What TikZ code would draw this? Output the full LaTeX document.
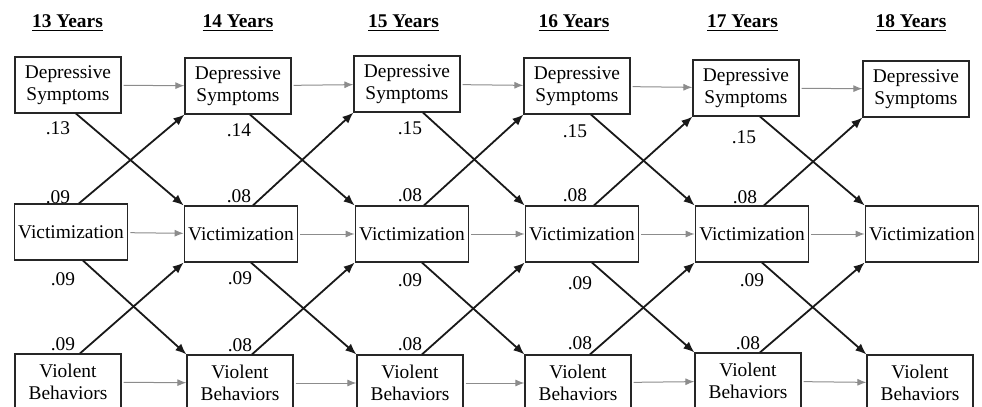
\documentclass[tikz,border=0pt]{standalone}
\usepackage{fontspec}
\setmainfont{Liberation Serif}
\usetikzlibrary{arrows.meta}
\newcommand{\txt}{\fontsize{9.7}{11}\selectfont}
\tikzset{
  measure/.style={draw=black!85, line width=0.6pt, align=center, minimum width=53pt,
    minimum height=28pt, inner xsep=2pt, inner ysep=1pt, font=\txt},
  wt/.style={inner sep=0pt, font=\txt},
  age/.style={inner sep=0pt, anchor=base, font=\txt\bfseries},
  stab/.style={draw=black!45, line width=0.5pt, -{Latex[length=4.5pt,width=3.5pt]}, shorten <=1pt},
  lag/.style={draw=black!90, line width=0.9pt, -{Latex[length=5.5pt,width=4.5pt]}},
}

\begin{document}
\begin{tikzpicture}[x=0.5pt,y=-0.5pt]
        \useasboundingbox (0,0) rectangle (982,407);
        \clip (0,0) rectangle (982,407);
        % ages
        \node[age] (a13) at (67.5,27) {\underline{13 Years}}; \node[age] (a14) at (238,27) {\underline{14 Years}};
        \node[age] (a15) at (403.5,27) {\underline{15 Years}}; \node[age] (a16) at (574,27) {\underline{16 Years}};
        \node[age] (a17) at (742.5,27) {\underline{17 Years}}; \node[age] (a18) at (911,27) {\underline{18 Years}};
        % boxes
        \node[measure] (dep1) at (68,85) {Depressive\\Symptoms};  \node[measure] (dep2) at (238,86) {Depressive\\Symptoms};
        \node[measure] (dep3) at (407,84) {Depressive\\Symptoms}; \node[measure] (dep4) at (577,86) {Depressive\\Symptoms};
        \node[measure] (dep5) at (746,88) {Depressive\\Symptoms}; \node[measure] (dep6) at (916,89) {Depressive\\Symptoms};
        \node[measure] (vic1) at (71,232) {Victimization};  \node[measure] (vic2) at (241,234) {Victimization};
        \node[measure] (vic3) at (412,234) {Victimization}; \node[measure] (vic4) at (582,234) {Victimization};
        \node[measure] (vic5) at (752,234) {Victimization}; \node[measure] (vic6) at (922,234) {Victimization};
        \node[measure] (vio1) at (68,382) {Violent\\Behaviors};  \node[measure] (vio2) at (240,383) {Violent\\Behaviors};
        \node[measure] (vio3) at (410,383) {Violent\\Behaviors}; \node[measure] (vio4) at (578,383) {Violent\\Behaviors};
        \node[measure] (vio5) at (748,381) {Violent\\Behaviors}; \node[measure] (vio6) at (920,383) {Violent\\Behaviors};
        % weights
        \node[wt] (w1a) at (58,128) {.13};  \node[wt] (w1b) at (58,197) {.09};
        \node[wt] (w1c) at (63,279) {.09};  \node[wt] (w1d) at (63,344) {.09};
        \node[wt] (w2a) at (239,130) {.14}; \node[wt] (w2b) at (239,196) {.08};
        \node[wt] (w2c) at (240,278) {.09}; \node[wt] (w2d) at (240,345) {.08};
        \node[wt] (w3a) at (410,128) {.15}; \node[wt] (w3b) at (410,195) {.08};
        \node[wt] (w3c) at (410,280) {.09}; \node[wt] (w3d) at (410,344) {.08};
        \node[wt] (w4a) at (575,131) {.15}; \node[wt] (w4b) at (575,195) {.08};
        \node[wt] (w4c) at (580,283) {.09}; \node[wt] (w4d) at (580,343) {.08};
        \node[wt] (w5a) at (744,137) {.15}; \node[wt] (w5b) at (745,197) {.08};
        \node[wt] (w5c) at (752,280) {.09}; \node[wt] (w5d) at (748,343) {.08};
        % stability paths
        \draw[stab] (dep1) -- (dep2); \draw[stab] (dep2) -- (dep3); \draw[stab] (dep3) -- (dep4);
        \draw[stab] (dep4) -- (dep5); \draw[stab] (dep5) -- (dep6);
        \draw[stab] (vic1) -- (vic2); \draw[stab] (vic2) -- (vic3); \draw[stab] (vic3) -- (vic4);
        \draw[stab] (vic4) -- (vic5); \draw[stab] (vic5) -- (vic6);
        \draw[stab] (vio1) -- (vio2); \draw[stab] (vio2) -- (vio3); \draw[stab] (vio3) -- (vio4);
        \draw[stab] (vio4) -- (vio5); \draw[stab] (vio5) -- (vio6);
        % cross-lagged paths
        \draw[lag] ([xshift=4pt]dep1.south) -- (vic2.north west); \draw[lag] ([xshift=4pt]vic1.north) -- (dep2.south west);
        \draw[lag] ([xshift=6pt]vic1.south) -- (vio2.north west); \draw[lag] ([xshift=6pt]vio1.north) -- (vic2.south west);
        \draw[lag] ([xshift=6pt]dep2.south) -- (vic3.north west); \draw[lag] ([xshift=6pt]vic2.north) -- (dep3.south west);
        \draw[lag] ([xshift=5pt]vic2.south) -- (vio3.north west); \draw[lag] ([xshift=6pt]vio2.north) -- (vic3.south west);
        \draw[lag] ([xshift=8pt]dep3.south) -- (vic4.north west); \draw[lag] ([xshift=6pt]vic3.north) -- (dep4.south west);
        \draw[lag] ([xshift=5pt]vic3.south) -- (vio4.north west); \draw[lag] ([xshift=6pt]vio3.north) -- (vic4.south west);
        \draw[lag] ([xshift=7pt]dep4.south) -- (vic5.north west); \draw[lag] ([xshift=6pt]vic4.north) -- (dep5.south west);
        \draw[lag] ([xshift=5pt]vic4.south) -- (vio5.north west); \draw[lag] ([xshift=6pt]vio4.north) -- (vic5.south west);
        \draw[lag] ([xshift=7pt]dep5.south) -- (vic6.north west); \draw[lag] ([xshift=6pt]vic5.north) -- (dep6.south west);
        \draw[lag] ([xshift=5pt]vic5.south) -- (vio6.north west); \draw[lag] ([xshift=6pt]vio5.north) -- (vic6.south west);
    \end{tikzpicture}
\end{document}
